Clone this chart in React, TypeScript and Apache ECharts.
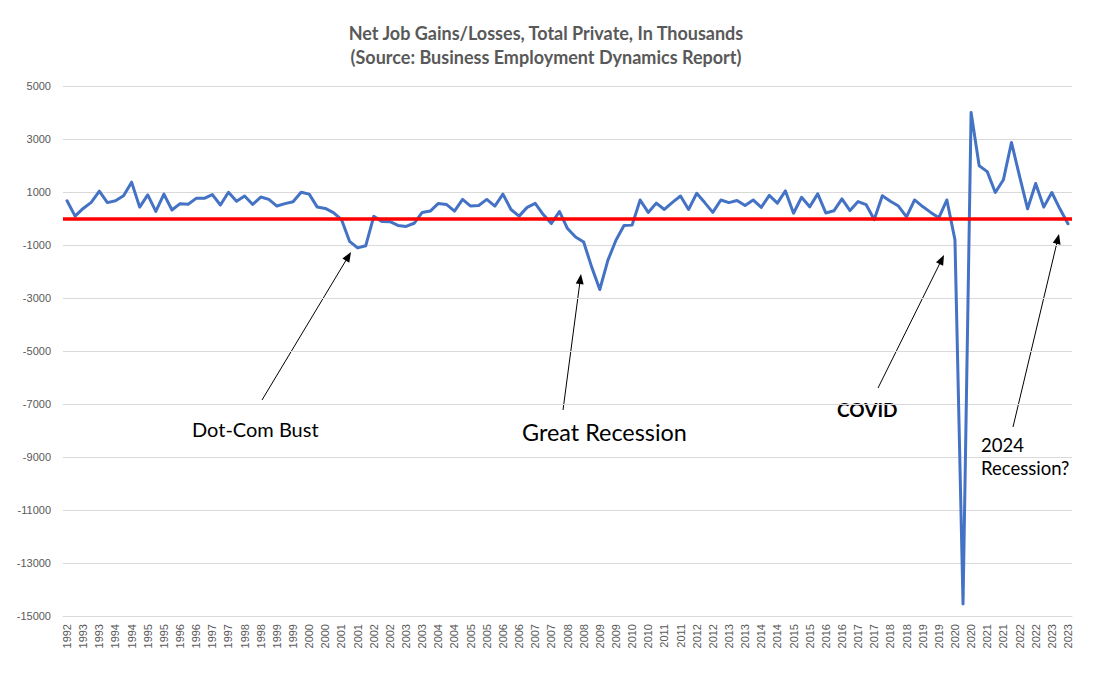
import React, { useEffect, useRef } from "react";
import * as echarts from "echarts";

// Quarterly net job gains/losses, total private, in thousands (1992 Q3 .. 2023 Q3)
const START_YEAR = 1992;
const START_QUARTER = 3;

const netJobChange: number[] = [
  670, 90, 380, 610, 1030, 600, 670, 860, 1370, 430,
  890, 270, 920, 320, 560, 540, 760, 760, 900, 510,
  990, 650, 850, 530, 810, 720, 470, 560, 630, 990,
  920, 430, 380, 220, -40, -860, -1110, -1030, 80, -110,
  -120, -260, -300, -180, 230, 280, 570, 530, 280, 720,
  470, 490, 720, 470, 920, 340, 90, 420, 570, 150,
  -190, 265, -380, -700, -885, -1835, -2680, -1580, -820, -265,
  -250, 700, 230, 580, 340, 610, 850, 340, 950, 600,
  230, 700, 600, 680, 490, 700, 420, 870, 580, 1040,
  200, 800, 440, 930, 210, 290, 740, 300, 640, 520,
  -40, 860, 650, 470, 60, 700, 450, 230, 25, 700,
  -800, -14550, 4000, 1990, 1770, 980, 1460, 2870, 1600, 365,
  1320, 430, 980, 365, -200,
];

// category labels: the year of each quarter
const categories: string[] = netJobChange.map((_, i) =>
  String(START_YEAR + Math.floor((START_QUARTER - 1 + i) / 4))
);

const yTickValues: number[] = [-15000, -13000, -11000, -9000, -7000, -5000, -3000, -1000, 1000, 3000, 5000];
const Y_MIN = -15000;
const Y_MAX = 5000;
const ZERO_LINE = 0;

const titleLines: string[] = [
  "Net Job Gains/Losses, Total Private, In Thousands",
  "(Source: Business Employment Dynamics Report)",
];

const OFF = 8; // body margin

function arrow(x1: number, y1: number, x2: number, y2: number): any[] {
  const ax1 = x1 - OFF, ay1 = y1 - OFF, ax2 = x2 - OFF, ay2 = y2 - OFF;
  const dx = ax2 - ax1, dy = ay2 - ay1;
  const len = Math.sqrt(dx * dx + dy * dy);
  const ux = dx / len, uy = dy / len;
  const hl = 10, hw = 4;
  const bx = ax2 - ux * hl, by = ay2 - uy * hl;
  const px = -uy, py = ux;
  return [
    {
      type: "line",
      silent: true,
      shape: { x1: ax1, y1: ay1, x2: bx + ux * 2, y2: by + uy * 2 },
      style: { stroke: "#000", lineWidth: 1 },
    },
    {
      type: "polygon",
      silent: true,
      shape: {
        points: [
          [ax2, ay2],
          [bx + px * hw, by + py * hw],
          [bx + px * -hw, by + py * -hw],
        ],
      },
      style: { fill: "#000" },
    },
  ];
}

function label(text: string, x: number, y: number, size: number, bold = false, lineHeight?: number): any {
  return {
    type: "text",
    silent: true,
    x: x - OFF,
    y: y - OFF,
    style: {
      text,
      fill: "#000",
      font: `${bold ? "bold " : ""}${size}px Lato, 'Liberation Sans', sans-serif`,
      textAlign: "left",
      textVerticalAlign: "middle",
      lineHeight: lineHeight ?? size * 1.2,
    },
  };
}

export default function App() {
  const ref = useRef<HTMLDivElement>(null);

  useEffect(() => {
    if (!ref.current) return;
    const chart = echarts.init(ref.current, undefined, { renderer: "svg" });

    const titleStyle = {
      fill: "#595959",
      font: "bold 18px Lato, 'Liberation Sans', sans-serif",
      textAlign: "center",
      textVerticalAlign: "middle",
    };

    const graphics: any[] = [
      { type: "text", silent: true, x: 546 - OFF, y: 33 - OFF, style: { ...titleStyle, text: titleLines[0] } },
      { type: "text", silent: true, x: 546 - OFF, y: 57 - OFF, style: { ...titleStyle, text: titleLines[1] } },
      label("Dot-Com Bust", 192, 429, 20),
      label("Great Recession", 522, 432, 23.4),
      label("COVID", 837, 409, 19, true),
      label("2024\nRecession?", 981, 456, 18.5, false, 23),
      ...arrow(262, 400, 351, 252),
      ...arrow(563, 410, 581, 274),
      ...arrow(878, 388, 944, 255),
      ...arrow(1013, 427, 1059, 234),
    ];

    chart.setOption({
      animation: false,
      backgroundColor: "#fff",
      grid: { left: 55, right: 37, top: 78, bottom: 52, containLabel: false },
      xAxis: {
        type: "category",
        data: categories,
        boundaryGap: true,
        axisLine: { onZero: false, lineStyle: { color: "#D9D9D9", width: 1 } },
        axisTick: { show: false },
        axisLabel: {
          interval: 1,
          rotate: 90,
          color: "#595959",
          fontSize: 11,
          fontFamily: "'Liberation Sans', Arial, sans-serif",
          margin: 8,
        },
        splitLine: { show: false },
      },
      yAxis: {
        type: "value",
        min: Y_MIN,
        max: Y_MAX,
        axisLine: { show: false },
        axisTick: { show: false, customValues: yTickValues },
        axisLabel: {
          customValues: yTickValues,
          formatter: (v: number) => String(v),
          color: "#595959",
          fontSize: 11,
          fontFamily: "'Liberation Sans', Arial, sans-serif",
          margin: 12,
        },
        splitLine: { show: true, lineStyle: { color: "#D9D9D9", width: 1 } },
      },
      series: [
        {
          type: "line",
          data: netJobChange,
          symbol: "none",
          showSymbol: false,
          lineStyle: { color: "#4472C4", width: 3, join: "round", cap: "round" },
          z: 2,
          markLine: {
            silent: true,
            symbol: ["none", "none"],
            label: { show: false },
            lineStyle: { color: "#FF0000", width: 3.5, type: "solid" },
            data: [{ yAxis: ZERO_LINE }],
          },
        },
      ],
      graphic: graphics,
    });

    return () => chart.dispose();
  }, []);

  return <div ref={ref} style={{ width: 1101, height: 660 }} />;
}
